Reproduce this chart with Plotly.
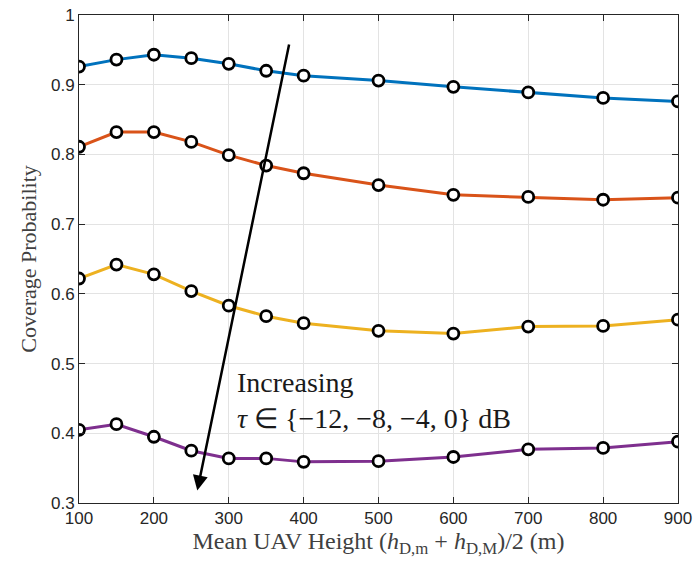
import plotly.graph_objects as go

heights = [100, 150, 200, 250, 300, 350, 400, 500, 600, 700, 800, 900]
tau_m12 = [0.926, 0.936, 0.943, 0.938, 0.930, 0.920, 0.913, 0.906, 0.897, 0.889, 0.881, 0.876]
tau_m8 = [0.811, 0.832, 0.832, 0.818, 0.799, 0.784, 0.773, 0.756, 0.742, 0.739, 0.735, 0.738]
tau_m4 = [0.622, 0.642, 0.628, 0.604, 0.583, 0.568, 0.558, 0.547, 0.543, 0.553, 0.554, 0.563]
tau_0 = [0.405, 0.413, 0.395, 0.375, 0.364, 0.364, 0.359, 0.360, 0.366, 0.377, 0.379, 0.388]

series = [tau_m12, tau_m8, tau_m4, tau_0]
colors = ["#0072BD", "#D95319", "#EDB120", "#7E2F8E"]

x_ticks = [100, 200, 300, 400, 500, 600, 700, 800, 900]
y_ticks = [0.3, 0.4, 0.5, 0.6, 0.7, 0.8, 0.9, 1.0]
y_tick_text = ["0.3", "0.4", "0.5", "0.6", "0.7", "0.8", "0.9", "1"]

arrow_tail = (381, 0.960)
arrow_head = (258, 0.318)
label_pos = (309, 0.447)

fig = go.Figure()
for ys, c in zip(series, colors):
    fig.add_trace(go.Scatter(
        x=heights, y=ys, mode="lines+markers",
        line=dict(color=c, width=3),
        marker=dict(symbol="circle", size=11, color="white",
                    line=dict(color="black", width=2.8)),
        showlegend=False,
    ))

fig.add_annotation(
    x=arrow_head[0], y=arrow_head[1], ax=arrow_tail[0], ay=arrow_tail[1],
    xref="x", yref="y", axref="x", ayref="y",
    showarrow=True, arrowhead=2, arrowsize=1.2, arrowwidth=2.5, arrowcolor="black",
    text="",
)
fig.add_annotation(
    x=label_pos[0], y=label_pos[1], xref="x", yref="y",
    text="Increasing<br><i>τ</i> ∈ {−12, −8, −4, 0} dB",
    showarrow=False, xanchor="left", yanchor="middle", align="left",
    font=dict(family="Liberation Serif, serif", size=28, color="#1a1a1a"),
)

axis_common = dict(
    showline=True, linecolor="#262626", linewidth=1, mirror="ticks",
    ticks="inside", ticklen=6, tickcolor="#262626",
    showgrid=True, gridcolor="#e3e3e3", gridwidth=1, zeroline=False,
    automargin=False, ticklabeloverflow="allow",
    tickfont=dict(family="Liberation Sans, Arial, sans-serif", size=17, color="#262626"),
)

fig.update_xaxes(
    range=[100, 900], tickvals=x_ticks, **axis_common,
    title=dict(text="Mean UAV Height (<i>h</i><sub>D,m</sub> + <i>h</i><sub>D,M</sub>)/2 (m)",
               font=dict(family="Liberation Serif, serif", size=24, color="#404040"), standoff=0),
)
fig.update_yaxes(
    range=[0.3, 1.0], tickvals=y_ticks, ticktext=y_tick_text, **axis_common,
    title=dict(text="Coverage Probability",
               font=dict(family="Liberation Serif, serif", size=22, color="#404040"), standoff=8),
)

fig.update_layout(
    width=693, height=564,
    margin=dict(l=79, r=15, t=15, b=61),
    paper_bgcolor="white", plot_bgcolor="white",
)

# remove the default 8px page margin so the figure fills the 693x564 window
fig.write_html(
    "out.html",
    config={"displayModeBar": False},
    post_script="document.body.style.margin='0';document.body.style.overflow='hidden';",
)
